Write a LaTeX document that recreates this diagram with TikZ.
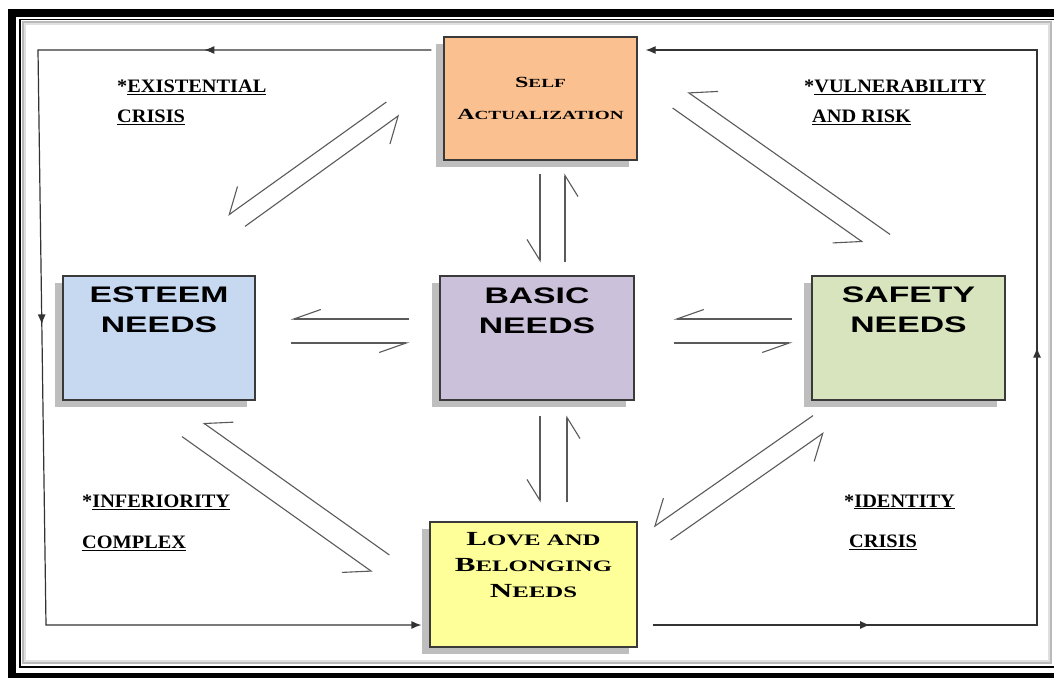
\documentclass[tikz,border=0pt]{standalone}
\usepackage{fontspec}
\usetikzlibrary{arrows.meta,shadows,decorations.markings}

\newfontfamily\boxfont[FakeStretch=1.5]{Liberation Sans}
\newfontfamily\capsfont[FakeStretch=1.55]{Liberation Serif}
\newfontfamily\notefont[FakeStretch=1.07]{Liberation Serif}

\definecolor{selfpeach}{HTML}{FAC090}
\definecolor{esteemblue}{HTML}{C6D9F1}
\definecolor{basiclilac}{HTML}{CCC1DA}
\definecolor{safetygreen}{HTML}{D7E4BD}
\definecolor{loveyellow}{HTML}{FFFF99}
\definecolor{shadowgray}{HTML}{BEBEBE}
\definecolor{boxedge}{HTML}{3A3A3A}
\definecolor{barbgray}{HTML}{5A5A5A}

\newcommand{\selfsc}[1]{{\fontsize{12.4}{12}\selectfont #1}}
\newcommand{\lovesc}[1]{{\fontsize{16}{16}\selectfont #1}}

\tikzset{
  needbox/.style={draw=boxedge, line width=1.2pt, inner sep=0pt,
    general shadow={fill=shadowgray, shadow xshift=-8pt, shadow yshift=-7pt}},
  boxtext/.style={font=\boxfont\bfseries\fontsize{22.5}{30}\selectfont, align=center,
    inner sep=0pt, anchor=north},
  selftext/.style={font=\capsfont\bfseries\fontsize{15.5}{32}\selectfont, align=center,
    inner sep=0pt, anchor=north},
  lovetext/.style={font=\capsfont\bfseries\fontsize{20}{26}\selectfont, align=center,
    inner sep=0pt, anchor=north},
  note/.style={font=\notefont\bfseries\fontsize{19}{30}\selectfont, align=left,
    inner sep=0pt, anchor=north west},
  hbarb/.style={draw=barbgray, line width=1.1pt, -{Straight Barb[right, length=27pt, width=19pt]}},
  vbarb/.style={draw=barbgray, line width=1.1pt, -{Straight Barb[right, length=21pt, width=26pt]}},
  dbarb/.style={draw=barbgray, line width=1.1pt, -{Straight Barb[right, length=23pt, width=36pt]}},
  loopline/.style={draw=black!80, line width=1.2pt, >={Latex[length=10pt, width=8pt]}},
  flowmarks/.style 2 args={postaction=decorate, decoration={markings,
    mark=at position #1 with {\arrow{>}}, mark=at position #2 with {\arrow{>}}}},
}

\begin{document}
\begin{tikzpicture}[x=1pt, y=-1pt]
   \useasboundingbox (0,0) rectangle (1054,677);
   \fill[white] (0,0) rectangle (1054,677);
   % frame
   \draw[gray!55, line width=2pt] (23,22) rectangle (1051,663);
   \draw[gray!25, line width=2pt] (25,24) rectangle (1049,661);
   \draw[line width=1.8pt] (20,19.5) rectangle (1056,667);
   \draw[line width=8pt] (11.5,13) rectangle (1064,677);

   % boxes
   \node[needbox, fill=selfpeach, minimum width=193pt, minimum height=123pt,
         label={[selftext, yshift=-41pt]north:S\selfsc{ELF}\\A\selfsc{CTUALIZATION}}] (self) at (540.5,98.5) {};
   \node[needbox, fill=esteemblue, minimum width=192pt, minimum height=124pt,
         label={[boxtext, yshift=-11pt]north:ESTEEM\\NEEDS}] (esteem) at (159,338) {};
   \node[needbox, fill=basiclilac, minimum width=194pt, minimum height=124pt,
         label={[boxtext, yshift=-12pt]north:BASIC\\NEEDS}] (basic) at (537,338) {};
   \node[needbox, fill=safetygreen, minimum width=193pt, minimum height=124pt,
         label={[boxtext, yshift=-11pt]north:SAFETY\\NEEDS}] (safety) at (908.5,338) {};
   \node[needbox, fill=loveyellow, minimum width=207pt, minimum height=125pt,
         label={[lovetext, yshift=-11pt]north:L\lovesc{OVE AND}\\B\lovesc{ELONGING}\\N\lovesc{EEDS}}] (love) at (533.5,584.5) {};

   % notes
   \node[note] (existential) at (117,79.5) {*\underline{EXISTENTIAL}\\\underline{CRISIS}};
   \node[note] (vulnerability) at (804,79.5) {*\underline{VULNERABILITY}\\\hspace*{8pt}\underline{AND RISK}};
   \node[note] (inferiority) at (82,494.5) {*\underline{INFERIORITY}\\[11pt]\underline{COMPLEX}};
   \node[note] (identity) at (844,494.5) {*\underline{IDENTITY}\\[10pt]\hspace*{5pt}\underline{CRISIS}};

   % outer loop
   \coordinate (topleft) at (38,50);
   \coordinate (botleft) at (46,625);
   \coordinate (botright) at (1037,625);
   \coordinate (topright) at (1037,50);
   \draw[loopline, flowmarks={0.169}{0.497}, ->] ([shift={(-12,-48.5)}]self.west) -- (topleft) -- (botleft) -- ([shift={(-8,40.5)}]love.west);
   \draw[loopline, flowmarks={0.161}{0.49}, ->] ([shift={(15,40.5)}]love.east) -- (botright) -- (topright) -- ([shift={(8,-48.5)}]self.east);

   % self <-> basic
   \draw[vbarb] ([shift={(-0.5,13)}]self.south) -- ([shift={(3,-13)}]basic.north);
   \draw[vbarb] ([shift={(28,-13)}]basic.north) -- ([shift={(24.5,13)}]self.south);
   % basic <-> love
   \draw[vbarb] ([shift={(3,15)}]basic.south) -- ([shift={(6.5,-19)}]love.north);
   \draw[vbarb] ([shift={(33.5,-19)}]love.north) -- ([shift={(30,15)}]basic.south);
   % esteem <-> basic
   \draw[hbarb] ([shift={(-30,-19)}]basic.west) -- ([shift={(35,-19)}]esteem.east);
   \draw[hbarb] ([shift={(35,5)}]esteem.east) -- ([shift={(-30,5)}]basic.west);
   % basic <-> safety
   \draw[hbarb] ([shift={(-19,-19)}]safety.west) -- ([shift={(39,-19)}]basic.east);
   \draw[hbarb] ([shift={(39,5)}]basic.east) -- ([shift={(-19,5)}]safety.west);
   % self <-> esteem
   \draw[dbarb] ([shift={(-57,3.5)}]self.west) -- ([shift={(69,-60)}]esteem.north);
   \draw[dbarb] ([shift={(86,-49)}]esteem.north) -- ([shift={(-44,16.5)}]self.west);
   % self <-> safety
   \draw[dbarb] ([shift={(-18.5,-41)}]safety.north) -- ([shift={(50,-6.5)}]self.east);
   \draw[dbarb] ([shift={(35,9.5)}]self.east) -- ([shift={(-45.5,-33)}]safety.north);
   % esteem <-> love
   \draw[dbarb] ([shift={(-40,-29.5)}]love.west) -- ([shift={(44,22)}]esteem.south);
   \draw[dbarb] ([shift={(23,36)}]esteem.south) -- ([shift={(-57,-12.5)}]love.west);
   % safety <-> love
   \draw[dbarb] ([shift={(-95.5,15)}]safety.south) -- ([shift={(16,-57.5)}]love.east);
   \draw[dbarb] ([shift={(33,-44.5)}]love.east) -- ([shift={(-84.5,32)}]safety.south);
\end{tikzpicture}
\end{document}
